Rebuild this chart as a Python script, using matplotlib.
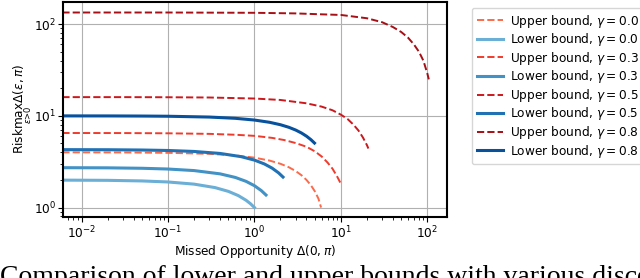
import matplotlib
matplotlib.use("Agg")
import matplotlib.pyplot as plt

plt.rcParams["font.size"] = 8.7

# Discount factors shown in the legend (rounded to one decimal there)
gammas = ["0.0", "0.3", "0.5", "0.8"]

# Lower bounds: missed opportunity -> risk
lower_x_g0 = [0.006, 0.02, 0.05, 0.1, 0.2, 0.35, 0.5, 0.65, 0.8, 0.9, 1.0]
lower_y_g0 = [1.99, 1.98, 1.95, 1.90, 1.80, 1.65, 1.50, 1.35, 1.20, 1.10, 1.00]

lower_x_g1 = [0.006, 0.02, 0.05, 0.1, 0.2, 0.4, 0.6, 0.8, 1.0, 1.2, 1.36]
lower_y_g1 = [2.72, 2.71, 2.68, 2.63, 2.53, 2.33, 2.13, 1.93, 1.73, 1.53, 1.37]

lower_x_g2 = [0.006, 0.02, 0.05, 0.1, 0.2, 0.4, 0.7, 1.0, 1.3, 1.6, 1.9, 2.14]
lower_y_g2 = [4.28, 4.27, 4.24, 4.19, 4.09, 3.89, 3.59, 3.29, 2.99, 2.69, 2.39, 2.15]

lower_x_g3 = [0.006, 0.02, 0.05, 0.1, 0.3, 0.6, 1.0, 1.5, 2.0, 2.5, 3.0, 3.5, 4.0, 4.5, 4.95]
lower_y_g3 = [9.99, 9.98, 9.95, 9.90, 9.70, 9.40, 9.00, 8.50, 8.00, 7.50, 7.00, 6.50, 6.00, 5.50, 5.05]

# Upper bounds
upper_x_g0 = [0.006, 0.03, 0.1, 0.3, 0.6, 1.0, 1.5, 2.0, 2.5, 3.0, 3.5, 4.0, 4.5, 5.0, 5.5, 5.9]
upper_y_g0 = [4.0, 3.99, 3.95, 3.85, 3.70, 3.50, 3.25, 3.00, 2.75, 2.50, 2.25, 2.00, 1.75, 1.50, 1.25, 1.00]

upper_x_g1 = [0.006, 0.03, 0.1, 0.3, 0.6, 1.0, 1.6, 2.2, 3.0, 4.0, 5.0, 6.0, 7.0, 8.0, 9.0, 9.9]
upper_y_g1 = [6.5, 6.49, 6.45, 6.36, 6.22, 6.05, 5.75, 5.45, 5.05, 4.60, 4.10, 3.60, 3.10, 2.65, 2.20, 1.85]

upper_x_g2 = [0.006, 0.03, 0.1, 0.3, 1.0, 2.0, 4.0, 6.0, 8.0, 10, 12, 14, 16, 18, 20, 20.8]
upper_y_g2 = [16.0, 16.0, 15.95, 15.85, 15.45, 14.9, 13.7, 12.6, 11.5, 10.3, 9.2, 8.0, 6.9, 5.8, 4.8, 4.4]

upper_x_g3 = [0.006, 0.1, 1, 3, 6, 10, 20, 30, 40, 50, 60, 70, 80, 90, 100, 104]
upper_y_g3 = [134, 134, 133, 131, 128, 126, 116, 105, 93, 82, 71, 60, 50, 40, 29, 25]

lower_x = [lower_x_g0, lower_x_g1, lower_x_g2, lower_x_g3]
lower_y = [lower_y_g0, lower_y_g1, lower_y_g2, lower_y_g3]
upper_x = [upper_x_g0, upper_x_g1, upper_x_g2, upper_x_g3]
upper_y = [upper_y_g0, upper_y_g1, upper_y_g2, upper_y_g3]

upper_colors = ["#fb6a4a", "#ef3b2c", "#cb181d", "#a50f15"]
lower_colors = ["#6baed6", "#4292c6", "#2171b5", "#08519c"]

fig = plt.figure(figsize=(6.4, 2.78), dpi=100)
ax = fig.add_axes([0.0992, 0.2205, 0.5985, 0.7734])

# Interleave upper and lower bound per gamma, as in the legend
for i, g in enumerate(gammas):
    ax.plot(upper_x[i], upper_y[i], "--", color=upper_colors[i], lw=1.4,
            label=r"Upper bound, $\gamma = %s$" % g)
    ax.plot(lower_x[i], lower_y[i], "-", color=lower_colors[i], lw=2.2,
            label=r"Lower bound, $\gamma = %s$" % g)

ax.set_xscale("log")
ax.set_yscale("log")
ax.set_xlim(10 ** -2.209, 10 ** 2.222)
ax.set_ylim(10 ** -0.1, 10 ** 2.245)
ax.grid(True, which="major", color="#b0b0b0", lw=0.8)
ax.tick_params(axis="y", which="major", pad=2)
ax.tick_params(axis="x", which="major", pad=2.5)

for spine in ax.spines.values():
    spine.set_linewidth(1.5)
    spine.set_color("black")

ax.set_xlabel(r"Missed Opportunity $\Delta(0, \pi)$", labelpad=1)
ax.set_ylabel(r"Risk$\max_{\varepsilon > 0}\Delta(\varepsilon, \pi)$", labelpad=0)

ax.legend(loc="upper left", bbox_to_anchor=(1.05, 1), fontsize=8.7,
          handlelength=2.2, handletextpad=0.6, labelspacing=0.13)

# Caption of the paper, clipped at the bottom of the crop
fig.text(0.0, -0.02, "Comparison of lower and upper bounds with various discount factors",
         family="Liberation Serif", fontsize=20, ha="left", va="baseline")

fig.savefig("out.png", dpi=100)
